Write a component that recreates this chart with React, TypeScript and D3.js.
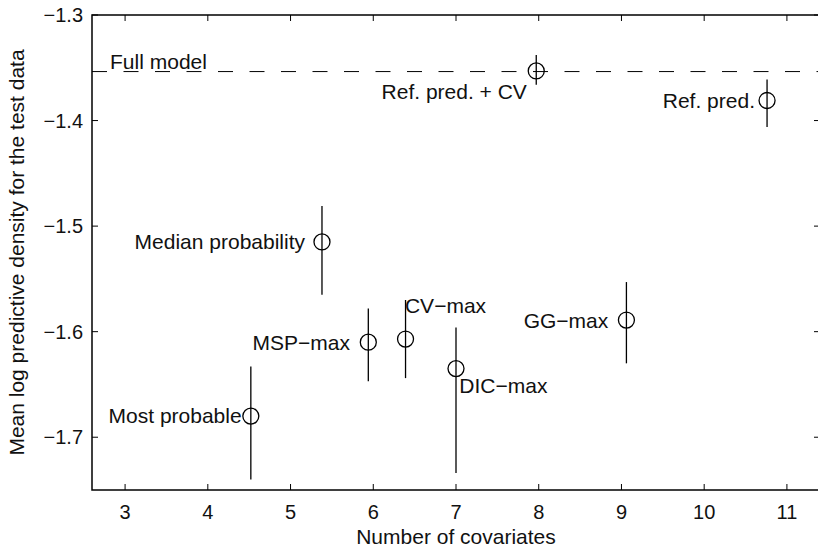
import React, { useEffect } from 'react';
import * as d3 from 'd3';

// model selection results: number of covariates vs mean log predictive density
const methods = ['Most probable', 'Median probability', 'MSP-max', 'CV-max', 'DIC-max', 'GG-max', 'Ref. pred. + CV', 'Ref. pred.'];
const covariates = [4.52, 5.38, 5.94, 6.39, 7.0, 9.06, 7.97, 10.76];
const mlpd = [-1.68, -1.515, -1.61, -1.607, -1.635, -1.589, -1.353, -1.381];
const errLow = [-1.74, -1.565, -1.647, -1.644, -1.734, -1.63, -1.366, -1.406];
const errHigh = [-1.633, -1.481, -1.578, -1.57, -1.596, -1.553, -1.338, -1.361];

const fullModel = -1.3536;

// text annotations in data coordinates (like MATLAB text())
const labels = [
  { text: 'Full model', x: 2.818, y: -1.344, side: 'start' },
  { text: 'Ref. pred. + CV', x: 6.1, y: -1.3725, side: 'start' },
  { text: 'Ref. pred.', x: 10.614, y: -1.381, side: 'end' },
  { text: 'Median probability', x: 5.175, y: -1.515, side: 'end' },
  { text: 'MSP\u2212max', x: 5.719, y: -1.61, side: 'end' },
  { text: 'CV\u2212max', x: 6.383, y: -1.5753, side: 'start' },
  { text: 'DIC\u2212max', x: 7.04, y: -1.651, side: 'start' },
  { text: 'GG\u2212max', x: 8.841, y: -1.59, side: 'end' },
  { text: 'Most probable', x: 4.409, y: -1.68, side: 'end' },
];

const xTicks = [3, 4, 5, 6, 7, 8, 9, 10, 11];
const yTicks = [-1.3, -1.4, -1.5, -1.6, -1.7];

const W = 818;
const H = 549;
const left = 92, right = 820, top = 15, bottom = 490;
const font = '"Liberation Sans", Arial, Helvetica, sans-serif';

export default function App() {
  useEffect(() => {
    document.body.style.margin = '0';
  }, []);

  const x = d3.scaleLinear().domain([2.6, 11.4]).range([left, right]);
  const y = d3.scaleLinear().domain([-1.3, -1.75]).range([top, bottom]);
  const tl = 6;
  const fmt = (v: number) => d3.format('.1f')(v).replace('-', '\u2212');

  return (
    <svg width={W} height={H} style={{ display: 'block' }} fontFamily={font}>
      <rect x={0} y={0} width={W} height={H} fill="#fff" />

      {/* full model reference */}
      <line x1={left} x2={right} y1={y(fullModel)} y2={y(fullModel)} stroke="#000" strokeWidth={1} strokeDasharray="15 16.5" />

      {/* error bars and markers */}
      {methods.map((m, i) => (
        <g key={m}>
          <line x1={x(covariates[i])} x2={x(covariates[i])} y1={y(errLow[i])} y2={y(errHigh[i])} stroke="#000" strokeWidth={1.3} />
          <circle cx={x(covariates[i])} cy={y(mlpd[i])} r={8} fill="none" stroke="#000" strokeWidth={1.3} />
        </g>
      ))}

      {labels.map((l) => (
        <text key={l.text} x={x(l.x)} y={y(l.y)} dy="0.35em" fontSize={21} textAnchor={l.side} fill="#111">
          {l.text}
        </text>
      ))}

      {/* axes box */}
      <rect x={left} y={top} width={right - left} height={bottom - top} fill="none" stroke="#000" strokeWidth={1.5} />

      {xTicks.map((t) => (
        <g key={'x' + t}>
          <line x1={x(t)} x2={x(t)} y1={bottom} y2={bottom - tl} stroke="#000" />
          <line x1={x(t)} x2={x(t)} y1={top} y2={top + tl} stroke="#000" />
          <text x={x(t)} y={bottom + 22} dy="0.35em" textAnchor="middle" fontSize={20} fill="#111">{t}</text>
        </g>
      ))}
      {yTicks.map((t) => (
        <g key={'y' + t}>
          <line x1={left} x2={left + tl} y1={y(t)} y2={y(t)} stroke="#000" />
          <line x1={right} x2={right - tl} y1={y(t)} y2={y(t)} stroke="#000" />
          <text x={left - 9} y={y(t)} dy="0.35em" textAnchor="end" fontSize={20} fill="#111">{fmt(t)}</text>
        </g>
      ))}

      <text x={(left + right) / 2} y={537} dy="0.35em" textAnchor="middle" fontSize={21} fill="#111">
        Number of covariates
      </text>
      <text transform={`translate(17,${(top + bottom) / 2}) rotate(-90)`} dy="0.35em" textAnchor="middle" fontSize={21} fill="#111">
        Mean log predictive density for the test data
      </text>
    </svg>
  );
}
